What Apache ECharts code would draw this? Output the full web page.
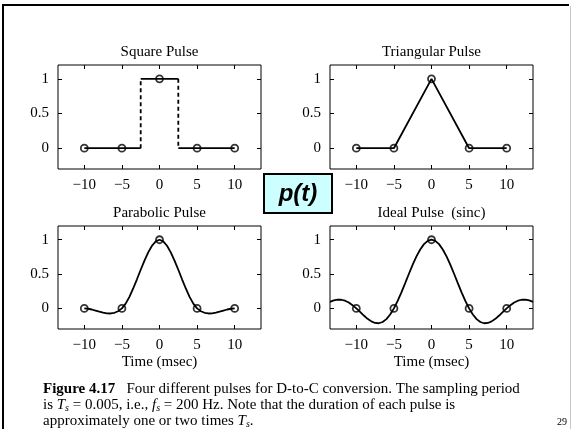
<!DOCTYPE html>
<html>
<head>
<meta charset="utf-8">
<script src="https://cdn.jsdelivr.net/npm/echarts@6/dist/echarts.min.js"></script>
<style>
  html, body { margin: 0; padding: 0; background: #fff; }
  #chart { width: 572px; height: 429px; }
</style>
</head>
<body>
<div id="chart"></div>
<script>
// sample instants (msec) and sample values
const sampleT = [-10, -5, 0, 5, 10];
const sampleP = [0, 0, 1, 0, 0];

// square pulse corners
const squareT = [-10, -2.5, -2.5, 2.5, 2.5, 10];
const squareP = [0, 0, 1, 1, 0, 0];

// triangular pulse
const triT = [-10, -5, 0, 5, 10];
const triP = [0, 0, 1, 0, 0];

// parabolic pulse
const paraT = [-10, -9.5, -9, -8.5, -8, -7.5, -7, -6.5, -6, -5.5, -5, -4.5, -4, -3.5, -3, -2.5, -2, -1.5, -1, -0.5,
  0, 0.5, 1, 1.5, 2, 2.5, 3, 3.5, 4, 4.5, 5, 5.5, 6, 6.5, 7, 7.5, 8, 8.5, 9, 9.5, 10];
const paraP = [0, -0.005, -0.016, -0.032, -0.048, -0.063, -0.072, -0.074, -0.064, -0.041, 0, 0.069, 0.168, 0.29, 0.424, 0.563, 0.696, 0.816, 0.912, 0.977,
  1, 0.977, 0.912, 0.816, 0.696, 0.563, 0.424, 0.29, 0.168, 0.069, 0, -0.041, -0.064, -0.074, -0.072, -0.063, -0.048, -0.032, -0.016, -0.005, 0];

// ideal (sinc) pulse
const sincT = [-13.5, -13, -12.5, -12, -11.5, -11, -10.5, -10, -9.5, -9, -8.5, -8, -7.5, -7, -6.5, -6, -5.5, -5, -4.5, -4, -3.5, -3, -2.5, -2, -1.5, -1, -0.5,
  0, 0.5, 1, 1.5, 2, 2.5, 3, 3.5, 4, 4.5, 5, 5.5, 6, 6.5, 7, 7.5, 8, 8.5, 9, 9.5, 10, 10.5, 11, 11.5, 12, 12.5, 13, 13.5];
const sincP = [0.095, 0.116, 0.127, 0.126, 0.112, 0.085, 0.047, 0, -0.052, -0.104, -0.152, -0.189, -0.212, -0.216, -0.198, -0.156, -0.089, 0, 0.109, 0.234, 0.368, 0.505, 0.637, 0.757, 0.858, 0.936, 0.984,
  1, 0.984, 0.936, 0.858, 0.757, 0.637, 0.505, 0.368, 0.234, 0.109, 0, -0.089, -0.156, -0.198, -0.216, -0.212, -0.189, -0.152, -0.104, -0.052, 0, 0.047, 0.085, 0.112, 0.126, 0.127, 0.116, 0.095];

const xTicks = [-10, -5, 0, 5, 10];
const yTicks = [0, 0.5, 1];
const titles = ['Square Pulse', 'Triangular Pulse', 'Parabolic Pulse', 'Ideal Pulse  (sinc)'];

const serif = 'Liberation Serif, Times New Roman, serif';

let chart = echarts.init(document.getElementById('chart'), null, { renderer: 'canvas' });

// plot boxes
const boxes = [
  { left: 58, top: 65, width: 203, height: 104 },
  { left: 330, top: 65, width: 203, height: 104 },
  { left: 58, top: 226, width: 203, height: 103 },
  { left: 330, top: 226, width: 203, height: 103 },
];

const pairs = (ts, ps) => ts.map((t, i) => [t, ps[i]]);
const minusFmt = v => (v < 0 ? '\u2212' + (-v) : String(v));

let grids = [], xAxes = [], yAxes = [], series = [], titleList = [];

boxes.forEach((b, gi) => {
  grids.push({ left: b.left, top: b.top, width: b.width, height: b.height, show: true, borderColor: '#000', borderWidth: 1 });
  const tick = vals => ({ show: true, inside: true, length: 4, customValues: vals, lineStyle: { color: '#000', width: 1 } });
  const lab = (vals, fmt) => ({ customValues: vals, margin: 9, fontSize: 15, color: '#000', fontFamily: serif, formatter: fmt });
  const noLine = { show: false, onZero: false };
  xAxes.push({
    gridIndex: gi, type: 'value', min: -13.5, max: 13.5, position: 'bottom',
    axisLine: noLine, splitLine: { show: false },
    axisTick: tick(xTicks), axisLabel: lab(xTicks, minusFmt),
    name: gi >= 2 ? 'Time (msec)' : '', nameLocation: 'middle', nameGap: 26,
    nameTextStyle: { fontSize: 15, color: '#000', fontFamily: serif },
  });
  xAxes.push({
    gridIndex: gi, type: 'value', min: -13.5, max: 13.5, position: 'top',
    axisLine: noLine, splitLine: { show: false },
    axisTick: tick(xTicks), axisLabel: { show: false },
  });
  yAxes.push({
    gridIndex: gi, type: 'value', min: -0.3, max: 1.2, position: 'left',
    axisLine: noLine, splitLine: { show: false },
    axisTick: tick(yTicks), axisLabel: lab(yTicks, v => String(v)),
  });
  yAxes.push({
    gridIndex: gi, type: 'value', min: -0.3, max: 1.2, position: 'right',
    axisLine: noLine, splitLine: { show: false },
    axisTick: tick(yTicks), axisLabel: { show: false },
  });
  titleList.push({
    text: titles[gi], left: b.left + b.width / 2, top: b.top - 20, textAlign: 'center', padding: 0,
    textStyle: { fontSize: 15, fontWeight: 'normal', color: '#000', fontFamily: serif },
  });
});

function curve(gi, data, dashed) {
  return {
    type: 'line', xAxisIndex: gi * 2, yAxisIndex: gi * 2, data: data,
    showSymbol: false, silent: true, animation: false,
    lineStyle: { color: '#000', width: 1.8, type: dashed ? [4, 3] : 'solid' },
  };
}
function samples(gi) {
  return {
    type: 'scatter', xAxisIndex: gi * 2, yAxisIndex: gi * 2, data: pairs(sampleT, sampleP),
    symbol: 'circle', symbolSize: 7, animation: false, z: 5,
    itemStyle: { color: 'rgba(0,0,0,0)', borderColor: '#000', borderWidth: 1.8 },
  };
}

const sq = pairs(squareT, squareP);
series.push(curve(0, sq.slice(0, 2)), curve(0, sq.slice(1, 3), true), curve(0, sq.slice(2, 4)),
  curve(0, sq.slice(3, 5), true), curve(0, sq.slice(4, 6)), samples(0));
series.push(curve(1, pairs(triT, triP)), samples(1));
series.push(curve(2, pairs(paraT, paraP)), samples(2));
series.push(curve(3, pairs(sincT, sincP)), samples(3));

const capStyle = {
  fontSize: 15, fill: '#000', fontFamily: serif, lineHeight: 16,
  rich: {
    b: { fontSize: 15, fontWeight: 'bold', fontFamily: serif, lineHeight: 16 },
    i: { fontSize: 15, fontStyle: 'italic', fontFamily: serif, lineHeight: 16 },
    s: { fontSize: 10, fontStyle: 'italic', fontFamily: serif, verticalAlign: 'bottom', padding: [4, 0, 0, 0] },
  },
};

let option = {
  animation: false,
  backgroundColor: '#fff',
  title: titleList,
  grid: grids,
  xAxis: xAxes,
  yAxis: yAxes,
  series: series,
  graphic: [
    // slide frame
    { type: 'line', shape: { x1: 2, y1: 5, x2: 569, y2: 5 }, style: { stroke: '#000', lineWidth: 2 } },
    { type: 'line', shape: { x1: 3, y1: 4, x2: 3, y2: 429 }, style: { stroke: '#000', lineWidth: 2 } },
    { type: 'line', shape: { x1: 570.5, y1: 6, x2: 570.5, y2: 429 }, style: { stroke: '#c8c8c8', lineWidth: 1 } },
    // p(t) label box
    { type: 'rect', shape: { x: 264, y: 174, width: 68, height: 39 }, style: { fill: '#ccffff', stroke: '#000', lineWidth: 2 } },
    { type: 'text', x: 298, y: 194, style: { text: 'p(t)', fontSize: 24, fontWeight: 'bold', fontStyle: 'italic', fontFamily: 'Liberation Sans, Arial, sans-serif', fill: '#000', align: 'center', verticalAlign: 'middle' } },
    // caption
    { type: 'text', left: 43, top: 381, style: Object.assign({ text: '{b|Figure 4.17}   Four different pulses for D-to-C conversion. The sampling period' }, capStyle) },
    { type: 'text', left: 43, top: 397, style: Object.assign({ text: 'is {i|T}{s|s} = 0.005, i.e., {i|f}{s|s} = 200 Hz. Note that the duration of each pulse is' }, capStyle) },
    { type: 'text', left: 43, top: 413, style: Object.assign({ text: 'approximately one or two times {i|T}{s|s}.' }, capStyle) },
    { type: 'text', left: 557, top: 417, style: { text: '29', fontSize: 10, fill: '#000', fontFamily: serif } },
  ],
};

chart.setOption(option);
window.addEventListener('resize', chart.resize);
</script>
</body>
</html>
